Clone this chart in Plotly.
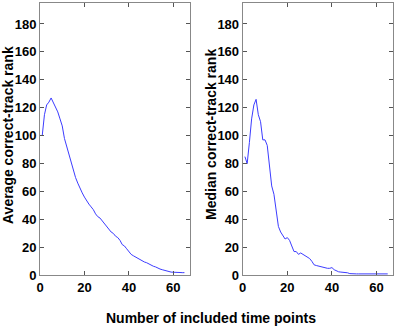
import plotly.graph_objects as go

x_points = list(range(1, 66))
average_rank = [100, 115, 122, 124, 127, 124, 121, 117, 112, 107,
                98, 92, 87, 81, 75, 70, 66, 62, 59, 56,
                53, 51, 49, 47, 44, 42, 41, 39, 37, 35,
                33, 31, 30, 28, 27, 25, 22, 21, 19, 17,
                15, 14, 13, 12, 11, 10, 9.5, 9, 8, 7.5,
                6.5, 6, 5, 4.5, 4, 3.5, 3, 2.5, 2.3, 2.2,
                2.3, 2.1, 2, 1.9, 1.9]
median_rank = [85, 80, 95, 112, 122, 126, 115, 110, 97, 97,
               93, 80, 64, 58, 46, 35, 31, 28, 26, 27,
               25, 21, 17, 17, 15, 16, 15, 14, 13, 12,
               10, 7.5, 7, 6.5, 6, 5.5, 5, 5, 5, 5.5,
               4, 3, 2.5, 2.3, 2.2, 2, 1.8, 1.2, 1, 1,
               1, 1, 1, 1, 1, 1, 1, 1, 1, 1,
               1, 1, 1, 1, 1]
y_titles = ["Average correct-track rank", "Median correct-track rank"]
x_title = "Number of included time points"

line_color = "rgb(60,60,255)"
font_fam = "Liberation Sans, Arial, sans-serif"

fig = go.Figure()
fig.add_trace(go.Scatter(x=x_points, y=average_rank, mode="lines",
                         line=dict(color=line_color, width=1), xaxis="x", yaxis="y"))
fig.add_trace(go.Scatter(x=x_points, y=median_rank, mode="lines",
                         line=dict(color=line_color, width=1), xaxis="x2", yaxis="y2"))

ax_common = dict(showgrid=False, zeroline=False, showline=True, mirror="ticks",
                 linecolor="#888888", linewidth=1, ticks="inside", ticklen=4,
                 tickcolor="#555555", automargin=False,
                 tickfont=dict(family=font_fam, size=13, color="black", weight="bold"))

ydom = [1 - 275.3 / 328, 1 - 3 / 328]
fig.update_layout(
    width=397, height=328,
    margin=dict(l=0, r=0, t=0, b=0),
    paper_bgcolor="white", plot_bgcolor="white",
    showlegend=False,
    xaxis=dict(domain=[40 / 397, 190 / 397], range=[0, 67.5], dtick=20, anchor="y", **ax_common),
    yaxis=dict(domain=ydom, range=[0, 195], dtick=20, anchor="x", **ax_common),
    xaxis2=dict(domain=[242.7 / 397, 393.3 / 397], range=[0, 67.5], dtick=20, anchor="y2", **ax_common),
    yaxis2=dict(domain=ydom, range=[0, 195], dtick=20, anchor="x2", **ax_common),
    annotations=[
        dict(text=y_titles[0], x=8 / 397, y=(328 - 135) / 328, xref="paper", yref="paper",
             textangle=-90, showarrow=False, xanchor="center", yanchor="middle",
             font=dict(family=font_fam, size=14, color="black", weight="bold")),
        dict(text=y_titles[1], x=211 / 397, y=(328 - 135) / 328, xref="paper", yref="paper",
             textangle=-90, showarrow=False, xanchor="center", yanchor="middle",
             font=dict(family=font_fam, size=14, color="black", weight="bold")),
        dict(text=x_title, x=211 / 397, y=(328 - 318) / 328, xref="paper", yref="paper",
             showarrow=False, xanchor="center", yanchor="middle",
             font=dict(family=font_fam, size=14, color="black", weight="bold")),
    ],
)

fig.write_html("out.html", config={"displayModeBar": False},
               post_script="document.body.style.margin='0';document.body.style.overflow='hidden';")
